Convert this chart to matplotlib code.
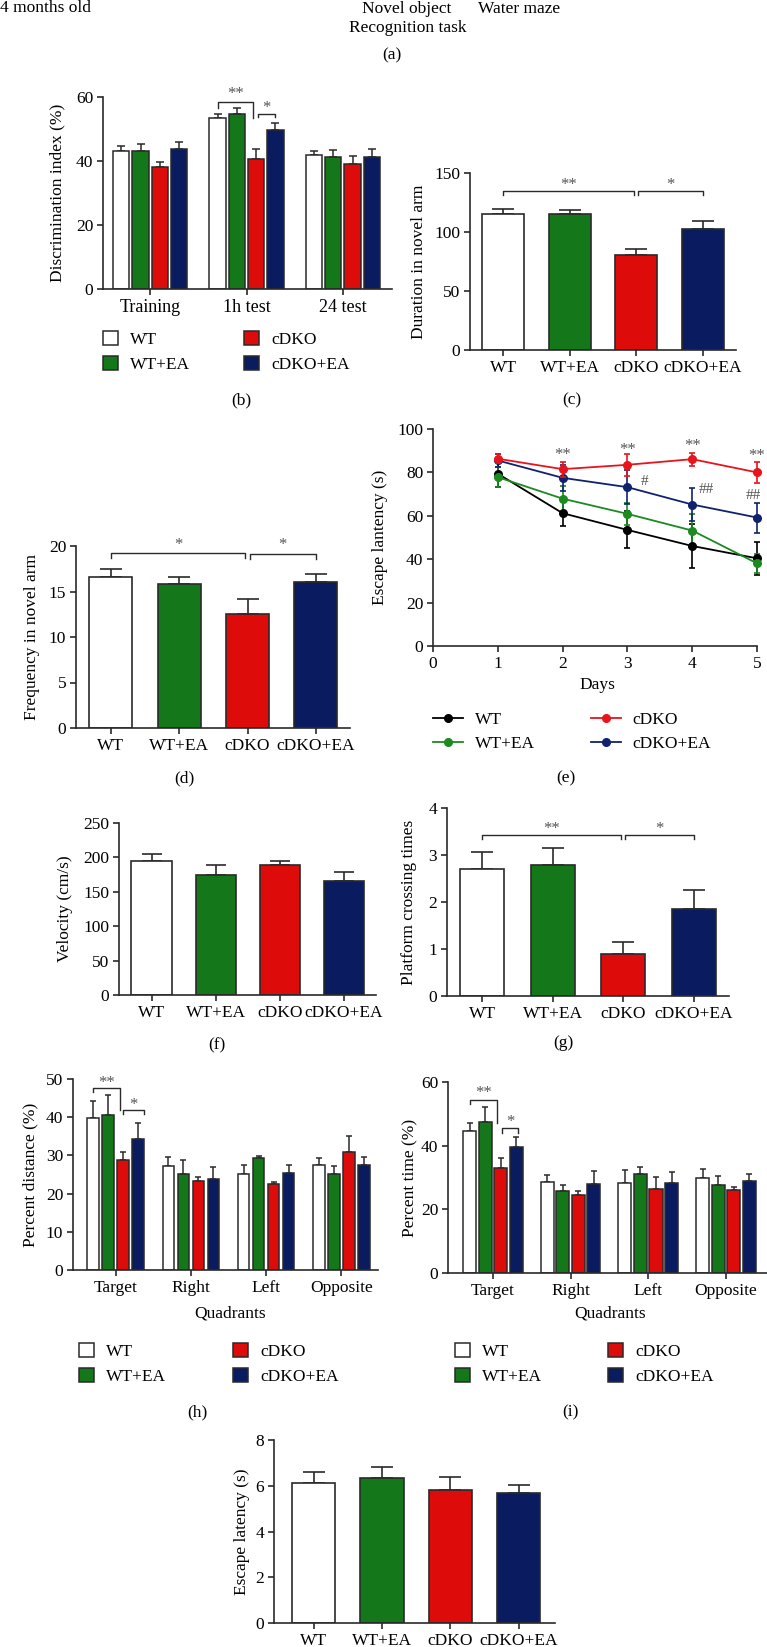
import matplotlib
matplotlib.use("Agg")
import matplotlib.pyplot as plt
import numpy as np
from matplotlib.patches import Patch
from matplotlib.lines import Line2D

plt.rcParams["font.family"] = ["Liberation Serif", "DejaVu Serif"]
plt.rcParams["font.size"] = 12.5

W, H = 767, 1647

# ---- data ----
groups = ["WT", "WT+EA", "cDKO", "cDKO+EA"]
bar_colors = ["white", "#14781a", "#de0b0b", "#0b1b5f"]
line_colors = ["black", "#1b8a1f", "#e8141c", "#10226e"]

nor_sessions = ["Training", "1h test", "24 test"]
nor_mean = [[43.2, 53.3, 41.9], [43.0, 54.6, 41.2], [38.1, 40.7, 39.0], [43.6, 49.7, 41.4]]
nor_sem = [[1.5, 1.5, 1.1], [2.3, 1.9, 2.3], [1.7, 3.1, 2.6], [2.2, 2.1, 2.2]]

dur_mean = [115.2, 115.2, 80.7, 102.5]
dur_sem = [4.2, 3.1, 5.3, 6.5]

freq_mean = [16.57, 15.84, 12.55, 16.06]
freq_sem = [0.85, 0.78, 1.6, 0.85]

days = [1, 2, 3, 4, 5]
lat_mean = [[79.4, 61.2, 53.5, 46.1, 40.4],
            [77.8, 67.9, 60.9, 53.2, 38.1],
            [86.3, 81.5, 83.5, 86.1, 80.0],
            [85.5, 77.5, 73.2, 65.2, 59.2]]
lat_sem = [[6.0, 5.8, 8.5, 10.0, 7.5],
           [4.5, 6.0, 5.0, 7.8, 4.5],
           [2.0, 3.5, 5.0, 3.0, 5.0],
           [3.0, 6.0, 7.7, 7.8, 6.9]]

vel_mean = [194.2, 174.8, 189.3, 166.0]
vel_sem = [10.2, 13.5, 5.4, 12.6]

cross_mean = [2.70, 2.785, 0.888, 1.847]
cross_sem = [0.355, 0.355, 0.256, 0.398]

quadrants = ["Target", "Right", "Left", "Opposite"]
dist_mean = [[39.9, 27.1, 25.1, 27.4], [40.6, 25.2, 29.2, 25.2], [28.8, 23.3, 22.6, 30.9], [34.4, 23.8, 25.5, 27.5]]
dist_sem = [[4.4, 2.5, 2.4, 1.9], [5.2, 3.7, 0.7, 1.9], [2.1, 1.0, 0.4, 4.3], [4.2, 3.1, 2.0, 2.2]]

time_mean = [[44.7, 28.6, 28.4, 29.7], [47.4, 25.9, 31.1, 27.7], [33.0, 24.4, 26.5, 26.1], [39.7, 27.9, 28.2, 29.0]]
time_sem = [[2.3, 2.2, 4.0, 3.0], [4.8, 1.7, 2.3, 2.8], [3.2, 1.5, 3.6, 1.0], [2.9, 4.0, 3.5, 2.1]]

probe_mean = [6.14, 6.33, 5.82, 5.70]
probe_sem = [0.46, 0.48, 0.58, 0.34]

fig = plt.figure(figsize=(W / 100, H / 100), dpi=100)
INK = "#2a2a2a"


def axes_px(left, top, right, bottom):
    return fig.add_axes([left / W, 1 - bottom / H, (right - left) / W, (bottom - top) / H])


def style(ax, ylim, yticks, xlim):
    ax.set_ylim(*ylim)
    ax.set_xlim(*xlim)
    ax.set_yticks(yticks)
    for s in ["top", "right"]:
        ax.spines[s].set_visible(False)
    for s in ["left", "bottom"]:
        ax.spines[s].set_color(INK)
        ax.spines[s].set_linewidth(1.2)
    ax.tick_params(direction="out", length=4, width=1.2, color=INK, pad=3, labelsize=12.5)


def ylabel_at(ax, text, xpx, size=12.5):
    pos = ax.get_position()
    yc = pos.y0 + pos.height / 2
    fig.text(xpx / W, yc, text, rotation=90, ha="center", va="center", fontsize=size)


def fig_text(xpx, ypx, text, **kw):
    kw.setdefault("fontsize", 12.5)
    fig.text(xpx / W, 1 - ypx / H, text, ha="center", va="center", **kw)


def single_bars(ax, means, sems, capsize):
    x = np.arange(len(means))
    ax.errorbar(x, means, yerr=[np.zeros(len(means)), sems], fmt="none", ecolor=INK,
                elinewidth=1.2, capsize=capsize, capthick=1.2, zorder=1)
    ax.bar(x, means, width=0.63, color=bar_colors, edgecolor=INK, linewidth=1.2, zorder=2)
    ax.set_xticks(x)
    ax.set_xticklabels(groups, fontsize=12)


def grouped_bars(ax, means, sems, labels, width, capsize):
    x = np.arange(len(labels))
    for i in range(4):
        xi = x + (i - 1.5) * 0.2
        ax.errorbar(xi, means[i], yerr=[np.zeros(len(x)), sems[i]], fmt="none", ecolor=INK,
                    elinewidth=1.1, capsize=capsize, capthick=1.1, zorder=1)
        ax.bar(xi, means[i], width=width, color=bar_colors[i], edgecolor=INK, linewidth=1.1, zorder=2)
    ax.set_xticks(x)
    ax.set_xticklabels(labels)


def bracket(ax, x1, x2, y, y1, y2, text, ty, size=12):
    ax.plot([x1, x1, x2, x2], [y1, y, y, y2], color=INK, lw=1.0, clip_on=False)
    ax.text((x1 + x2) / 2, ty, text, ha="center", va="center", fontsize=size, color="#555")


def legend_cols(x1, x2, ytop, handles, labels, **kw):
    for xc, hs, ls in [(x1, handles[:2], labels[:2]), (x2, handles[2:], labels[2:])]:
        fig.legend(hs, ls, loc="upper left", bbox_to_anchor=(xc / W, 1 - ytop / H),
                   frameon=False, borderpad=0, borderaxespad=0, labelspacing=0.45,
                   handletextpad=0.7, fontsize=12.5, **kw)


patches = [Patch(facecolor=c, edgecolor=INK, linewidth=1.1) for c in bar_colors]
lines = [Line2D([0], [0], color=c, marker="o", markersize=5.5, lw=1.3) for c in line_colors]

# ---- (a) header text ----
fig.text(0, 1 - 8 / H, "4 months old", ha="left", va="center", fontsize=12.5)
fig_text(407, 9, "Novel object")
fig_text(408, 28, "Recognition task")
fig_text(519, 9, "Water maze")
fig_text(392, 55, "(a)")

# ---- (b) novel object recognition ----
ax = axes_px(103, 97, 392, 289)
grouped_bars(ax, nor_mean, nor_sem, nor_sessions, 0.17, 3.2)
style(ax, (0, 60), [0, 20, 40, 60], (-0.49, 2.51))
ax.tick_params(axis="x", labelsize=13)
bracket(ax, 0.7, 1.07, 58.5, 56.6, 53.4, "**", 60.8)
bracket(ax, 1.12, 1.3, 54.8, 53.7, 53.7, "*", 56.6)
ylabel_at(ax, "Discrimination index (%)", 57, size=12.5)
legend_cols(103, 244, 331, patches, groups, handlelength=0.85, handleheight=0.85)
fig_text(241, 400, "(b)")

# ---- (c) duration in novel arm ----
ax = axes_px(470, 173, 736, 350)
single_bars(ax, dur_mean, dur_sem, 8)
style(ax, (0, 150), [0, 50, 100, 150], (-0.5, 3.5))
bracket(ax, 0, 1.97, 135.0, 131.6, 131.6, "**", 139.5)
bracket(ax, 2.03, 3.0, 135.0, 131.6, 131.6, "*", 139.5)
ylabel_at(ax, "Duration in novel arm", 419)
fig_text(572, 400, "(c)")

# ---- (d) frequency in novel arm ----
ax = axes_px(76, 546, 350, 728)
single_bars(ax, freq_mean, freq_sem, 8)
style(ax, (0, 20), [0, 5, 10, 15, 20], (-0.51, 3.5))
bracket(ax, 0, 1.97, 19.23, 18.7, 18.7, "*", 20.1)
bracket(ax, 2.03, 3.0, 19.1, 18.6, 18.6, "*", 20.1)
ylabel_at(ax, "Frequency in novel arm", 32)
fig_text(184, 778, "(d)")

# ---- (e) escape latency over days ----
ax = axes_px(433, 429, 757, 646)
for i in range(4):
    ax.errorbar(days, lat_mean[i], yerr=lat_sem[i], color=line_colors[i], marker="o",
                markersize=5.5, lw=1.3, elinewidth=1.2, capsize=2.5, capthick=1.2,
                clip_on=False, zorder=3 + (i == 2))
style(ax, (0, 100), [0, 20, 40, 60, 80, 100], (0, 5))
ax.set_xticks([0, 1, 2, 3, 4, 5])
for d, yv in zip([2, 3, 4, 5], [88.1, 90.4, 92.0, 87.4]):
    ax.text(d, yv, "**", ha="center", va="center", fontsize=12, color="#555")
ax.text(3.2, 75.8, "#", ha="left", va="center", fontsize=11, color="#555")
ax.text(4.1, 72.3, "##", ha="left", va="center", fontsize=11, color="#555")
ax.text(4.95, 69.2, "##", ha="center", va="center", fontsize=11, color="#555")
ylabel_at(ax, "Escape lantency (s)", 380)
fig_text(597, 685, "Days")
legend_cols(433, 591, 712, lines, groups, handlelength=1.7)
fig_text(566, 778, "(e)")

# ---- (f) velocity ----
ax = axes_px(119, 823, 376, 995)
single_bars(ax, vel_mean, vel_sem, 7.5)
style(ax, (0, 250), [0, 50, 100, 150, 200, 250], (-0.51, 3.5))
ylabel_at(ax, "Velocity (cm/s)", 65)
fig_text(217, 1045, "(f)")

# ---- (g) platform crossing ----
ax = axes_px(447, 808, 729, 996)
single_bars(ax, cross_mean, cross_sem, 7.8)
style(ax, (0, 4), [0, 1, 2, 3, 4], (-0.5, 3.5))
bracket(ax, 0, 1.97, 3.417, 3.34, 3.34, "**", 3.55)
bracket(ax, 2.03, 3.0, 3.417, 3.34, 3.34, "*", 3.55)
ylabel_at(ax, "Platform crossing times", 409)
fig_text(563, 1043, "(g)")

# ---- (h) percent distance ----
ax = axes_px(73, 1079, 378, 1270)
grouped_bars(ax, dist_mean, dist_sem, quadrants, 0.156, 2.5)
style(ax, (0, 50), [0, 10, 20, 30, 40, 50], (-0.57, 3.49))
bracket(ax, -0.3, 0.05, 47.6, 46.5, 42.0, "**", 48.9)
bracket(ax, 0.1, 0.37, 42.0, 40.8, 40.8, "*", 43.3)
ylabel_at(ax, "Percent distance (%)", 30)
fig_text(230, 1314, "Quadrants")
legend_cols(79, 233, 1343, patches, groups, handlelength=0.85, handleheight=0.85)
fig_text(197, 1412, "(h)")

# ---- (i) percent time ----
ax = axes_px(448, 1082, 767, 1273)
grouped_bars(ax, time_mean, time_sem, quadrants, 0.168, 2.5)
style(ax, (0, 60), [0, 20, 40, 60], (-0.58, 3.53))
bracket(ax, -0.3, 0.05, 54.5, 53.2, 47.0, "**", 56.4)
bracket(ax, 0.12, 0.32, 45.4, 44.1, 44.1, "*", 47.5)
ylabel_at(ax, "Percent time (%)", 410)
fig_text(610, 1314, "Quadrants")
legend_cols(455, 608, 1343, patches, groups, handlelength=0.85, handleheight=0.85)
fig_text(570, 1412, "(i)")

# ---- (j) probe escape latency ----
ax = axes_px(274, 1440, 555, 1623)
single_bars(ax, probe_mean, probe_sem, 8)
style(ax, (0, 8), [0, 2, 4, 6, 8], (-0.58, 3.53))
ylabel_at(ax, "Escape latency (s)", 242)

fig.savefig("out.png", dpi=100)
